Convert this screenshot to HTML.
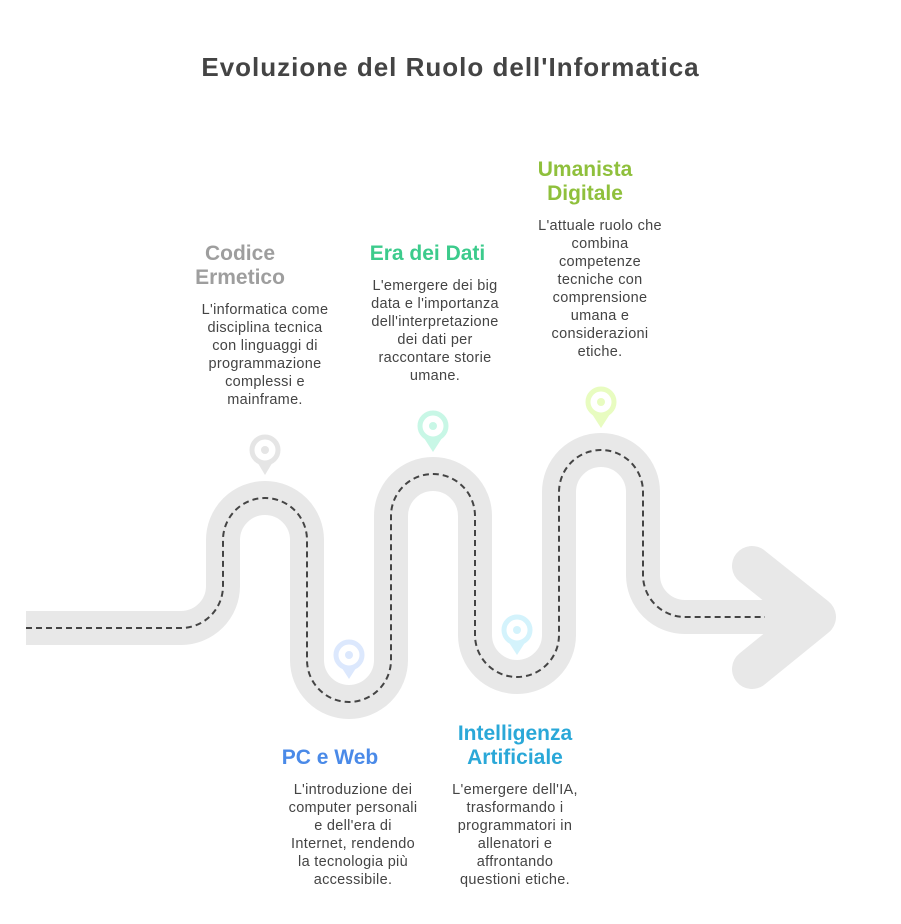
<!DOCTYPE html>
<html><head><meta charset="utf-8"><style>
body{margin:0;background:#fff;width:901px;height:924px;overflow:hidden;font-family:"Liberation Sans",sans-serif}
.t{position:absolute;text-align:center;font-weight:bold;font-size:21px;line-height:24px}
.b{position:absolute;text-align:center;font-size:14.5px;line-height:18px;color:#444;letter-spacing:0.3px}
</style></head><body>
<div style="position:absolute;left:0;width:901px;top:52px;text-align:center;font-size:26px;font-weight:bold;color:#444;letter-spacing:1px">Evoluzione del Ruolo dell'Informatica</div>
<svg width="901" height="924" style="position:absolute;left:0;top:0">
<path d="M26 628 H181 A42 42 0 0 0 223 586 V540 A42 42 0 0 1 307 540 V660 A42 42 0 0 0 391 660 V516 A42 42 0 0 1 475 516 V635 A42 42 0 0 0 559 635 V492 A42 42 0 0 1 643 492 V575 A42 42 0 0 0 685 617 H790" fill="none" stroke="#e8e8e8" stroke-width="34"/>
<path d="M752 566 L816 617 L752 669" fill="none" stroke="#e8e8e8" stroke-width="40" stroke-linecap="round" stroke-linejoin="round"/>
<path d="M26 628 H181 A42 42 0 0 0 223 586 V540 A42 42 0 0 1 307 540 V660 A42 42 0 0 0 391 660 V516 A42 42 0 0 1 475 516 V635 A42 42 0 0 0 559 635 V492 A42 42 0 0 1 643 492 V575 A42 42 0 0 0 685 617 H765" fill="none" stroke="#444" stroke-width="2" stroke-dasharray="6 4"/>
<g><path d="M256 460 L265 475 L274 460Z" fill="#e5e5e5"/><circle cx="265" cy="450" r="13" fill="#fff" stroke="#e5e5e5" stroke-width="5"/><circle cx="265" cy="450" r="4" fill="#e5e5e5"/></g>
<g><path d="M424 438 L433 452 L442 438Z" fill="#c8f7e6"/><circle cx="433" cy="426" r="13" fill="#fff" stroke="#c8f7e6" stroke-width="5"/><circle cx="433" cy="426" r="4" fill="#c8f7e6"/></g>
<g><path d="M592 414 L601 428 L610 414Z" fill="#e8fcc0"/><circle cx="601" cy="402" r="13" fill="#fff" stroke="#e8fcc0" stroke-width="5"/><circle cx="601" cy="402" r="4" fill="#e8fcc0"/></g>
<g><path d="M340 665 L349 679 L358 665Z" fill="#dce8fd"/><circle cx="349" cy="655" r="13" fill="#fff" stroke="#dce8fd" stroke-width="5"/><circle cx="349" cy="655" r="4" fill="#dce8fd"/></g>
<g><path d="M508 641 L517 655 L526 641Z" fill="#d4f3fc"/><circle cx="517" cy="630" r="13" fill="#fff" stroke="#d4f3fc" stroke-width="5"/><circle cx="517" cy="630" r="4" fill="#d4f3fc"/></g>
</svg>
<div class="t" style="left:160px;width:160px;top:242px;color:#9e9e9e">Codice<br>Ermetico</div>
<div class="b" style="left:170px;width:190px;top:301px">L'informatica come<br>disciplina tecnica<br>con linguaggi di<br>programmazione<br>complessi e<br>mainframe.</div>
<div class="t" style="left:345px;width:165px;top:242px;color:#3ccb8c">Era dei Dati</div>
<div class="b" style="left:340px;width:190px;top:277px">L'emergere dei big<br>data e l'importanza<br>dell'interpretazione<br>dei dati per<br>raccontare storie<br>umane.</div>
<div class="t" style="left:505px;width:160px;top:158px;color:#8fc03c">Umanista<br>Digitale</div>
<div class="b" style="left:505px;width:190px;top:217px">L'attuale ruolo che<br>combina<br>competenze<br>tecniche con<br>comprensione<br>umana e<br>considerazioni<br>etiche.</div>
<div class="t" style="left:255px;width:150px;top:746px;color:#4a8ae8">PC e Web</div>
<div class="b" style="left:258px;width:190px;top:781px">L'introduzione dei<br>computer personali<br>e dell'era di<br>Internet, rendendo<br>la tecnologia più<br>accessibile.</div>
<div class="t" style="left:425px;width:180px;top:722px;color:#2aa8d8">Intelligenza<br>Artificiale</div>
<div class="b" style="left:420px;width:190px;top:781px">L'emergere dell'IA,<br>trasformando i<br>programmatori in<br>allenatori e<br>affrontando<br>questioni etiche.</div>
</body></html>
